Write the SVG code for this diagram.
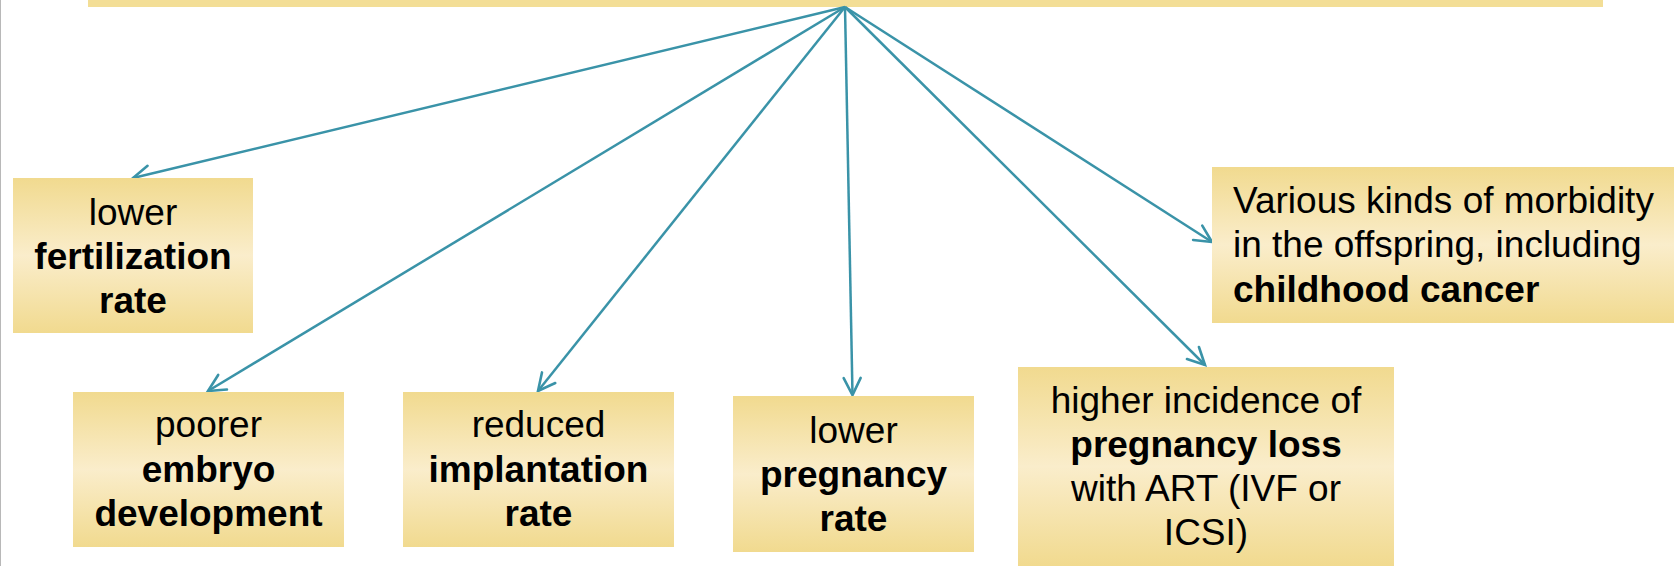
<svg xmlns="http://www.w3.org/2000/svg" width="1674" height="566" viewBox="0 0 1674 566">
  <style>
    .box { fill: url(#g); }
    .t { font-family: "Liberation Sans", Arial, sans-serif; font-size: 37px; fill: #000; text-anchor: middle; }
    .b { font-weight: bold; }
    .l { text-anchor: start; }
    .c { stroke: #3A93A8; stroke-width: 2.5; fill: none; marker-end: url(#ah); }
  </style>
  <defs>
    <linearGradient id="g" x1="0" y1="0" x2="0" y2="1">
      <stop offset="0" stop-color="#F1DA8F"/>
      <stop offset="0.5" stop-color="#FAEDCB"/>
      <stop offset="1" stop-color="#F1DA8F"/>
    </linearGradient>
    <marker id="ah" markerUnits="userSpaceOnUse" markerWidth="40" markerHeight="40" refX="0" refY="0" viewBox="-20 -20 40 40" orient="auto" overflow="visible">
      <path d="M -17 -8.5 L 0 0 L -17 8.5" fill="none" stroke="#3A93A8" stroke-width="2.6" stroke-linecap="round" stroke-linejoin="miter"/>
    </marker>
  </defs>
  <rect x="0" y="0" width="1674" height="566" fill="#FFFFFF"/>
  <line x1="0.5" y1="0" x2="0.5" y2="566" stroke="#B8B8B8" stroke-width="1"/>
  <g id="top-bar">
    <rect x="88" y="0" width="1515" height="7" fill="#F3DE96"/>
  </g>
  <g id="connectors">
    <line class="c" x1="845" y1="7" x2="133" y2="178"/>
    <line class="c" x1="845" y1="7" x2="208" y2="391"/>
    <line class="c" x1="845" y1="7" x2="538" y2="391"/>
    <line class="c" x1="845" y1="7" x2="852.5" y2="395"/>
    <line class="c" x1="845" y1="7" x2="1205" y2="365"/>
    <line class="c" x1="845" y1="7" x2="1212" y2="242"/>
  </g>
  <g id="fertilization">
    <rect class="box" x="13" y="178" width="240" height="155"/>
    <text class="t" x="133" y="225">lower</text>
    <text class="t b" x="133" y="269">fertilization</text>
    <text class="t b" x="133" y="313">rate</text>
  </g>
  <g id="embryo">
    <rect class="box" x="73" y="392" width="271" height="155"/>
    <text class="t" x="208.5" y="437">poorer</text>
    <text class="t b" x="208.5" y="481.5">embryo</text>
    <text class="t b" x="208.5" y="526">development</text>
  </g>
  <g id="implantation">
    <rect class="box" x="403" y="392" width="271" height="155"/>
    <text class="t" x="538.5" y="437">reduced</text>
    <text class="t b" x="538.5" y="481.5">implantation</text>
    <text class="t b" x="538.5" y="526">rate</text>
  </g>
  <g id="pregnancy">
    <rect class="box" x="733" y="396" width="241" height="156"/>
    <text class="t" x="853.5" y="442.5">lower</text>
    <text class="t b" x="853.5" y="486.5">pregnancy</text>
    <text class="t b" x="853.5" y="531">rate</text>
  </g>
  <g id="pregnancy-loss">
    <rect class="box" x="1018" y="367" width="376" height="199"/>
    <text class="t" x="1206" y="412.5">higher incidence of</text>
    <text class="t b" x="1206" y="456.5">pregnancy loss</text>
    <text class="t" x="1206" y="500.5">with ART (IVF or</text>
    <text class="t" x="1206" y="544.5">ICSI)</text>
  </g>
  <g id="morbidity">
    <rect class="box" x="1212" y="167" width="470" height="156"/>
    <text class="t l" x="1233" y="212.5">Various kinds of morbidity</text>
    <text class="t l" x="1233" y="257">in the offspring, including</text>
    <text class="t l b" x="1233" y="301.5">childhood cancer</text>
  </g>
</svg>
